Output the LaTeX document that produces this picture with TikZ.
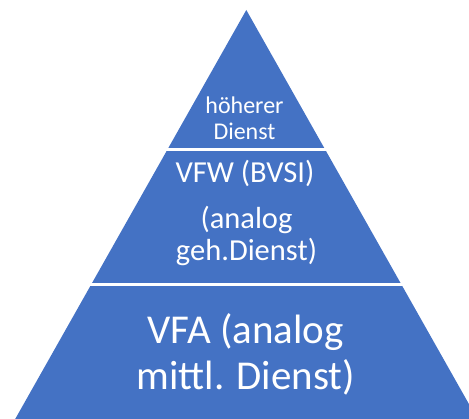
\documentclass[tikz,border=0pt]{standalone}
\usepackage{fontspec}
\setmainfont{Carlito}
\definecolor{pyrblue}{HTML}{4472C4}
\begin{document}
\begin{tikzpicture}[x=1pt,y=1pt,
	lbl/.style={text=white, anchor=base, inner sep=0pt},
	gap/.style={white, line width=3.5pt}]
	\useasboundingbox (0,0) rectangle (469,419);
	\clip (0,0) rectangle (469,419);
	\fill[pyrblue] (246.3,409)--(483.6,-11)--(9,-11)--cycle;
	\draw[gap] (0,269.5)--(469,269.5);
	\draw[gap] (0,134.5)--(469,134.5);
	
	% top
	\node[lbl, font=\fontsize{24}{26}\selectfont] (hoeher) at (244.5,305) {höherer};
	\node[lbl, font=\fontsize{24}{26}\selectfont] (hdienst) at (244.5,279.7) {Dienst};
	% middle
	\node[lbl, font=\fontsize{30.5}{32}\selectfont] (vfw) at (245,236.7) {VFW (BVSI)};
	\node[lbl, font=\fontsize{30.5}{32}\selectfont] (ganalog) at (246.5,190) {(analog};
	\node[lbl, font=\fontsize{30.5}{32}\selectfont] (gdienst) at (246.5,158) {geh.Dienst)};
	% bottom
	\node[lbl, font=\fontsize{41}{46}\selectfont] (vfa) at (245.8,75.7) {VFA (analog};
	\node[lbl, font=\fontsize{41}{46}\selectfont] (mdienst) at (245.8,29) {mittl. Dienst)};
\end{tikzpicture}
\end{document}
